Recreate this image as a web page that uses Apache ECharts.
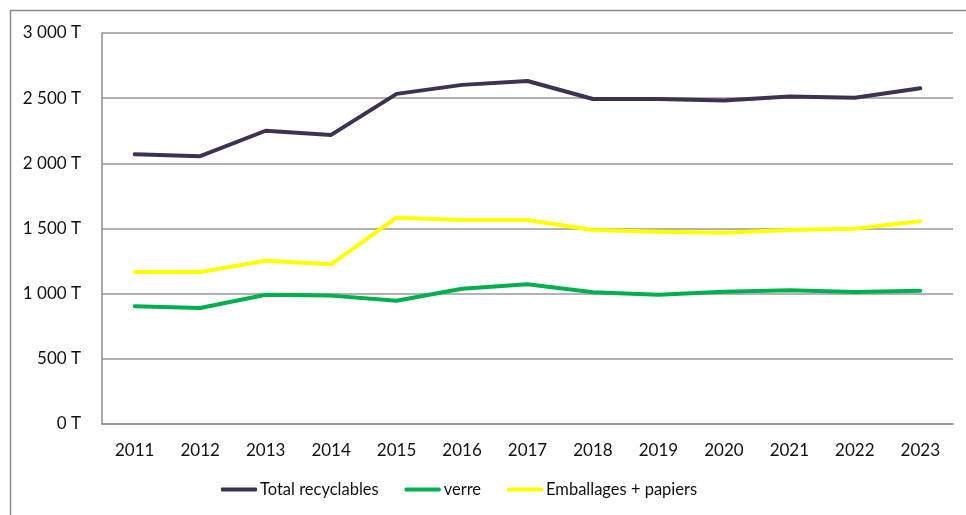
<!DOCTYPE html>
<html>
<head>
<meta charset="utf-8">
<script src="https://cdn.jsdelivr.net/npm/echarts@6/dist/echarts.min.js"></script>
<style>
  html, body { margin: 0; padding: 0; background: #fff; }
  #chart { width: 966px; height: 515px; }
</style>
</head>
<body>
<div id="chart"></div>
<script>
const years = ['2011', '2012', '2013', '2014', '2015', '2016', '2017', '2018', '2019', '2020', '2021', '2022', '2023']
const totalRecyclables = [2070, 2055, 2250, 2218, 2533, 2602, 2632, 2494, 2494, 2482, 2512, 2504, 2576]
const verre = [903, 890, 992, 985, 946, 1038, 1072, 1011, 992, 1015, 1026, 1012, 1023]
const emballagesPapiers = [1166, 1166, 1253, 1225, 1583, 1565, 1565, 1489, 1476, 1468, 1489, 1499, 1556]

const FONT = 'Lato, "Open Sans", sans-serif'
const fmtT = (v) => `${String(v).replace(/\B(?=(\d{3})+(?!\d))/g, ' ')} T`

const chart = echarts.init(document.getElementById('chart'))

const lineSeries = (name, data, color) => ({
  name,
  type: 'line',
  data,
  symbol: 'none',
  lineStyle: { color, width: 4, cap: 'round', join: 'round' },
  itemStyle: { color },
})

chart.setOption({
  animation: false,
  graphic: [{
    type: 'rect',
    shape: { x: 10.5, y: 10.5, width: 1000, height: 600 },
    style: { fill: 'none', stroke: '#8c8c8c', lineWidth: 1.5 },
    silent: true,
  }],
  grid: { left: 102, right: 13, top: 33, bottom: 91 },
  legend: {
    bottom: 12,
    left: 216,
    itemWidth: 36,
    itemHeight: 4,
    itemGap: 26,
    icon: 'roundRect',
    textStyle: { fontFamily: FONT, fontSize: 16.5, color: '#111', padding: [0, 0, 0, -2] },
    data: ['Total recyclables', 'verre', 'Emballages + papiers'],
  },
  xAxis: {
    type: 'category',
    data: years,
    boundaryGap: true,
    axisLine: { lineStyle: { color: '#8c8c8c', width: 1.5 } },
    axisTick: { show: false },
    axisLabel: { color: '#111', fontFamily: FONT, fontSize: 17, margin: 18 },
  },
  yAxis: {
    type: 'value',
    min: 0,
    max: 3000,
    interval: 500,
    axisLine: { show: true, lineStyle: { color: '#8c8c8c', width: 1.5 } },
    axisTick: { show: false },
    splitLine: { lineStyle: { color: '#9a9a9a', width: 1.5 } },
    axisLabel: { color: '#111', fontFamily: FONT, fontSize: 17, margin: 21, formatter: fmtT },
  },
  series: [
    lineSeries('Total recyclables', totalRecyclables, '#3f3151'),
    lineSeries('verre', verre, '#00b050'),
    lineSeries('Emballages + papiers', emballagesPapiers, '#ffff00'),
  ],
})
</script>
</body>
</html>
